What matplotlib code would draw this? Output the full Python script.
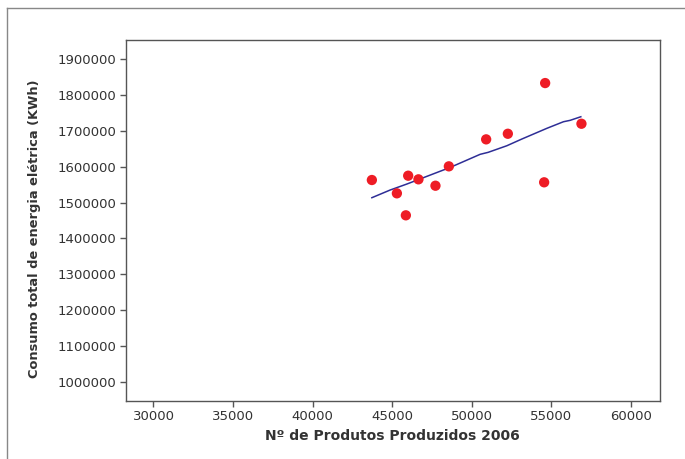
import matplotlib
matplotlib.use("Agg")
import matplotlib.pyplot as plt
from matplotlib.lines import Line2D

# Data
produtos = [43727, 45300, 46010, 46656, 47725, 45864, 48567, 50912, 52275, 54620, 54557, 56902]
consumo = [1562700, 1525600, 1574700, 1564600, 1546800, 1464300, 1600800, 1676000, 1691600, 1832900, 1556300, 1719500]

fit_x = [43727, 44877, 45927, 48660, 50534, 51037, 52212, 53155, 54726, 55770, 56191, 56863]
fit_y = [1513400, 1534800, 1551500, 1598000, 1634300, 1639800, 1658200, 1676900, 1706700, 1725100, 1729000, 1739000]

x_ticks = [30000, 35000, 40000, 45000, 50000, 55000, 60000]
y_ticks = [1000000, 1100000, 1200000, 1300000, 1400000, 1500000, 1600000, 1700000, 1800000, 1900000]

fig = plt.figure(figsize=(6.85, 4.59), dpi=100)
W, H = 685, 459
ax = fig.add_axes([125.5 / W, 1 - 401.3 / H, (660 - 125.5) / W, (401.3 - 40) / H])

ax.plot(fit_x, fit_y, color="#2e2e96", lw=1.1, zorder=2)
ax.scatter(produtos, consumo, s=55, color="#ee1c25", edgecolors="none", zorder=3)

ax.set_xlim(28240, 61840)
ax.set_ylim(946000, 1952900)
ax.set_xticks(x_ticks)
ax.set_yticks(y_ticks)
ax.set_xticklabels([str(v) for v in x_ticks])
ax.set_yticklabels([str(v) for v in y_ticks])

for s in ax.spines.values():
    s.set_color("#555555")
    s.set_linewidth(1.0)
ax.tick_params(axis="both", direction="out", length=4, width=1, color="#555555",
               labelsize=9.5, labelcolor="#333333", pad=2.5)

ax.set_xlabel("Nº de Produtos Produzidos 2006", fontsize=10, fontweight="bold",
              color="#333333", labelpad=4)
ax.set_ylabel("Consumo total de energia elétrica (KWh)", fontsize=9.4, fontweight="bold",
              color="#333333", labelpad=12)
ax.yaxis.label.set_y(0.477)

# Outer frame lines
fig.add_artist(Line2D([7 / W, 1.0], [1 - 8 / H, 1 - 8 / H], color="#888888", lw=1.0,
                      transform=fig.transFigure))
fig.add_artist(Line2D([7 / W, 7 / W], [0, 1 - 8 / H], color="#888888", lw=1.0,
                      transform=fig.transFigure))

fig.savefig("out.png", dpi=100)
